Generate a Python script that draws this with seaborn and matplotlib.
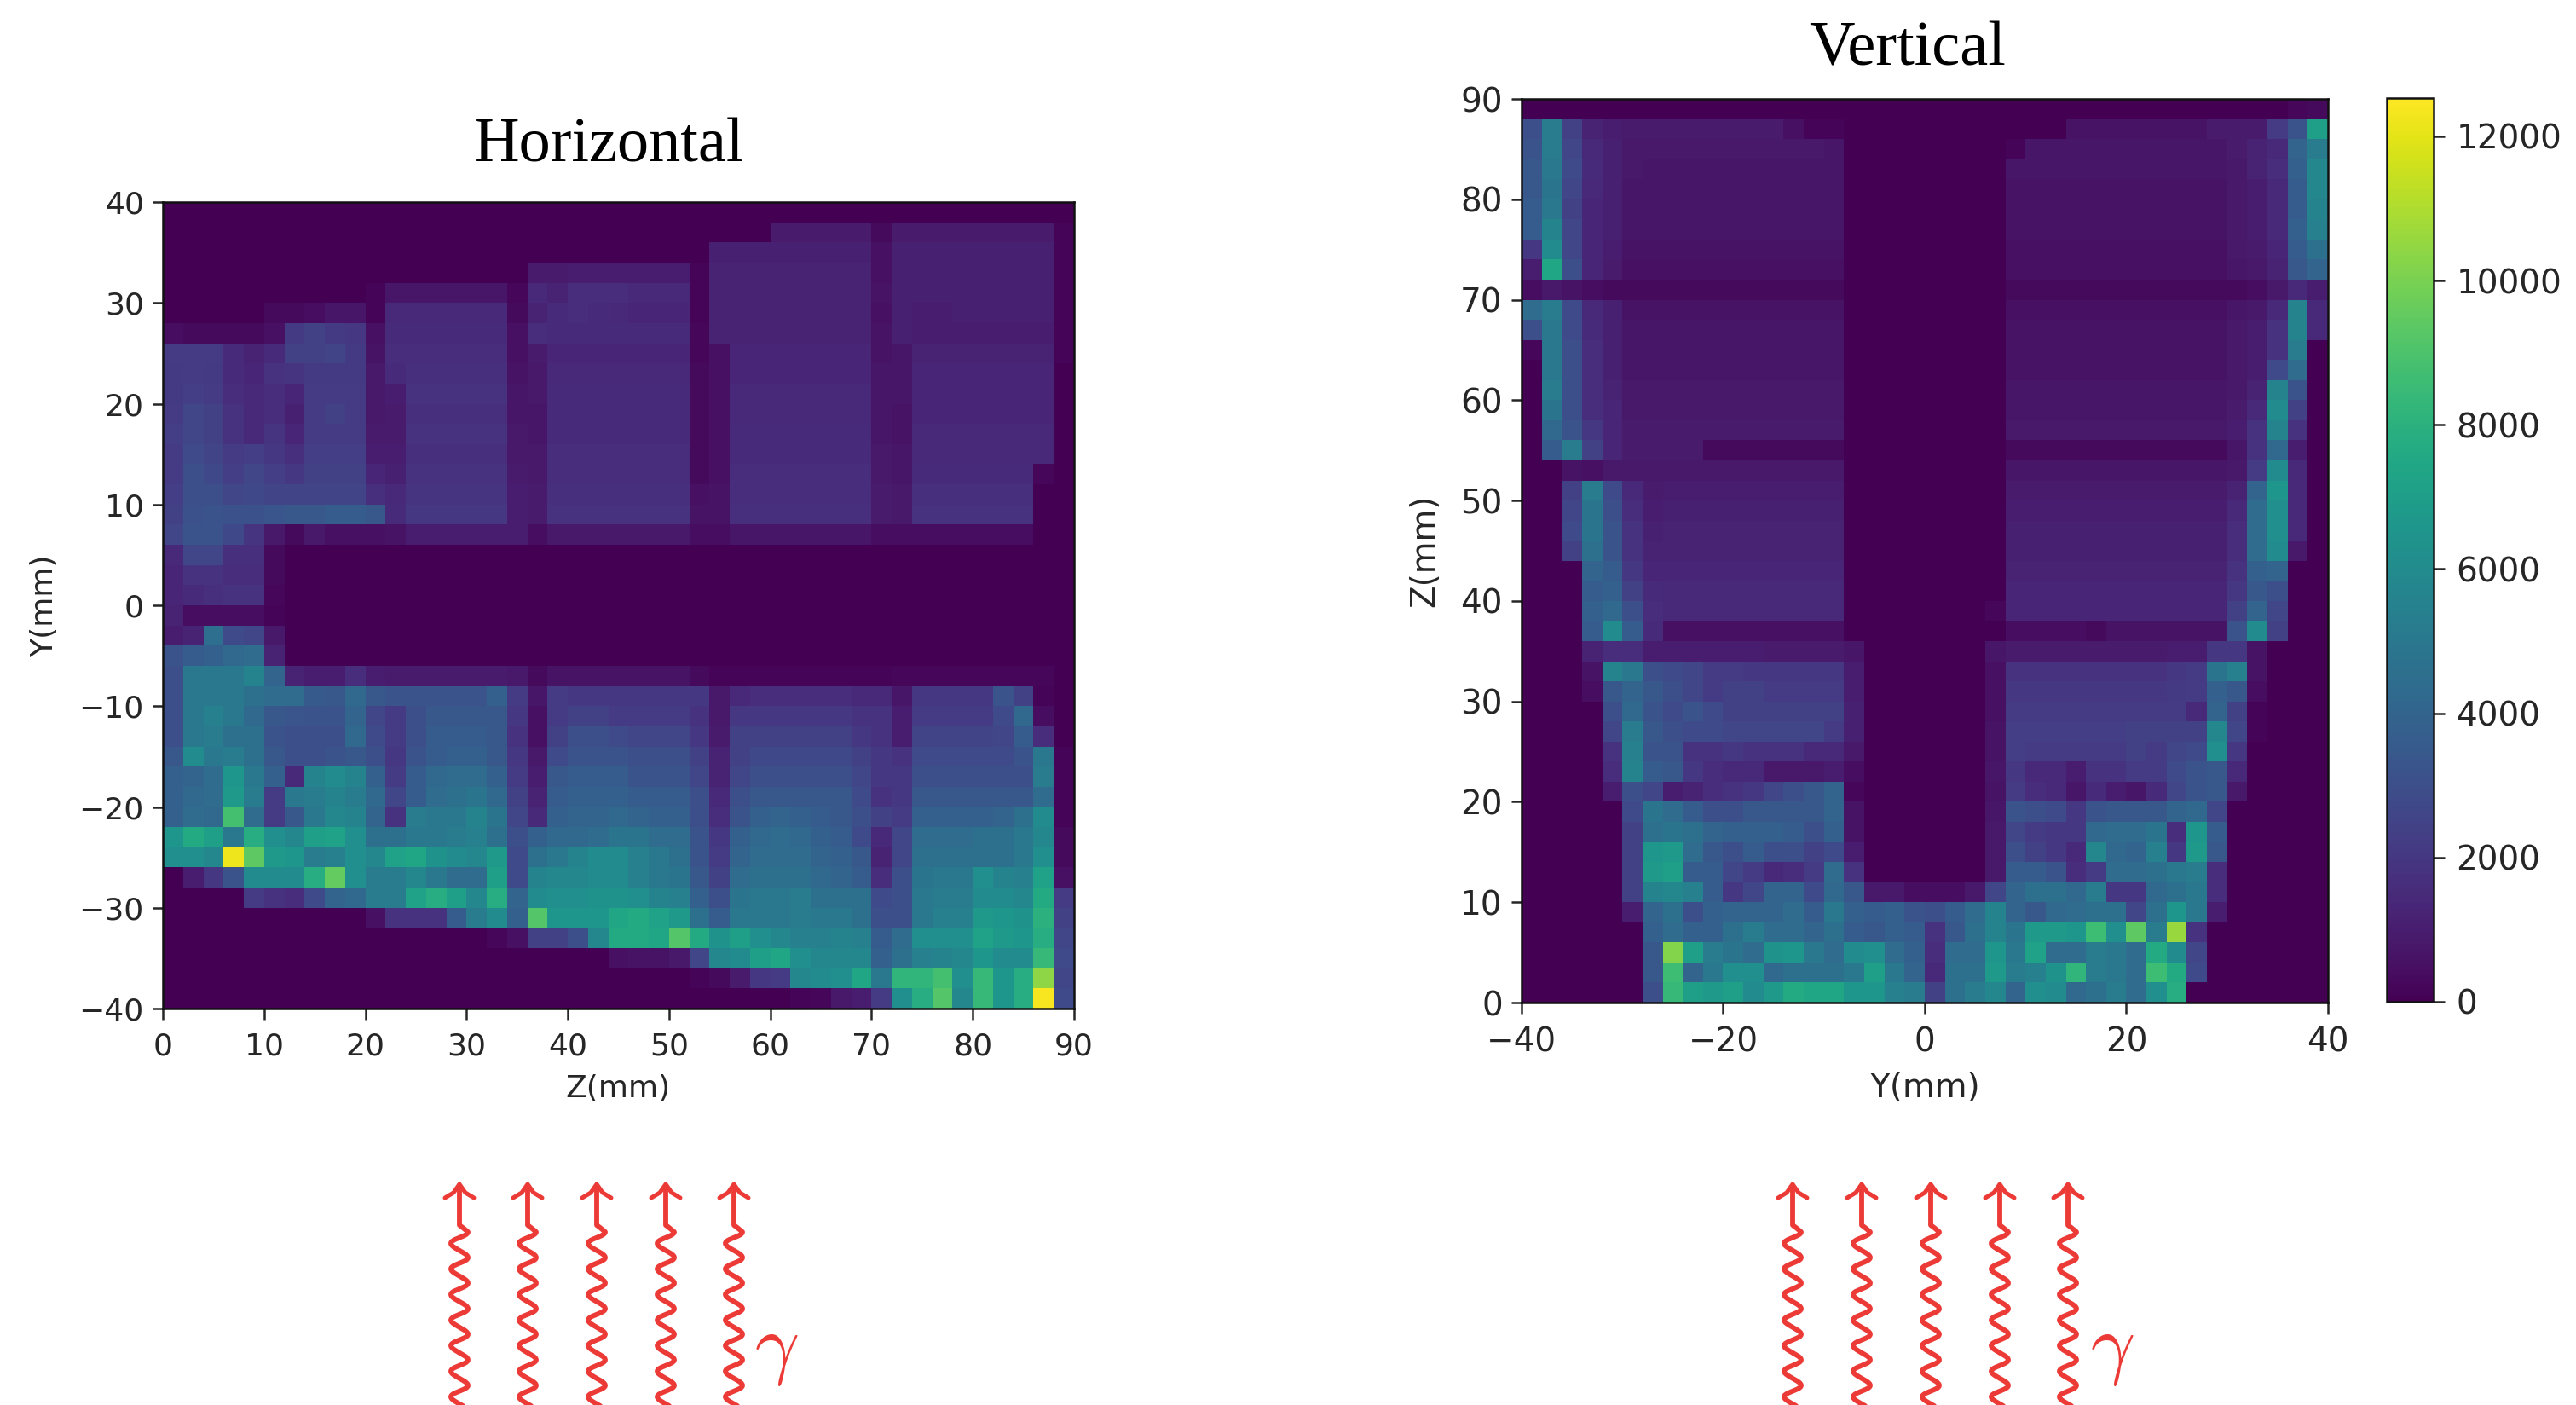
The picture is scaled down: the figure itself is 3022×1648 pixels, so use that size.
import numpy as np
import pandas as pd
import matplotlib
matplotlib.use("Agg")
import matplotlib.pyplot as plt
import seaborn as sns

# Values, in hundreds of counts. Rows run top to bottom.
horizontal_rows = [
 [0]*45,
 [0]*30+[9]*5+[3]+[9]*8+[1],
 [0]*27+[11]*8+[5]+[11]*8+[1],
 [0]*18+[9,9,10,10,10,10,10,10]+[1]+[12]*8+[5]+[11]*8+[1],
 [0]*10+[1]+[7]*6+[2]+[14,12,16,16,16,14,14,14]+[1]+[12]*8+[6]+[11]*8+[1],
 [0]*5+[3,3,4,7,7,1]+[14]*6+[3]+[12,15,16,15,14,13,13,13]+[1]+[12]*8+[5]+[11,10,10,11,11,11,11,11]+[1],
 [4,3,3,3,3,5,21,24,21,20,5]+[15]*6+[5]+[16,15,15,15,15,15,15,15]+[2]+[12]*8+[6]+[11,10,10,10,10,10,10,10]+[1],
 [22,22,22,15,12,15,24,24,25,21,6]+[16]*6+[5]+[9,13,13,13,13,13,13,13]+[2,5]+[13]*7+[6,7]+[12]*7+[1],
 [21,22,21,15,13,18,19,21,21,21,8,15]+[17]*5+[6]+[8,14,14,14,14,14,14,14]+[3,5]+[13]*7+[7,7]+[13]*7+[0],
 [21,23,22,16,14,16,13,22,22,22,8,10]+[18]*5+[7]+[8,15,15,15,15,15,15,15]+[3,5]+[14]*7+[7,7]+[13]*7+[0],
 [22,26,24,18,14,16,11,22,24,22,8,9]+[17]*5+[7]+[7,15,15,15,15,15,15,15]+[3,5]+[14]*7+[7,6]+[13]*7+[0],
 [23,26,24,18,14,19,13,22,22,22,9,9]+[18]*5+[8]+[7]+[15]*7+[3,5]+[15]*7+[7,6]+[14]*7+[0],
 [22,28,25,22,23,20,17,23,23,23,10,10]+[17]*5+[8]+[8]+[16]*7+[3,5]+[15]*7+[8,7]+[14]*7+[0],
 [22,30,27,23,26,23,20,24,24,24,13,11]+[18]*5+[9]+[8]+[16]*7+[3,5]+[16]*7+[8,7]+[15]*6+[2,0],
 [23,30,30,26,27,25,25,25,25,25,17,14]+[19]*5+[10]+[9]+[17]*7+[5,6]+[16]*7+[9,8]+[17]*6+[0,0],
 [24,31,32,31,31,33,34,34,36,36,34,15]+[20]*5+[10]+[9]+[18]*7+[6,6]+[17]*7+[9,8]+[18]*6+[0,0],
 [26,32,32,27,19,8,3,8,5,5,5,6]+[10]*6+[4]+[8]*7+[4,4]+[7]*7+[4,4]+[4]*6+[0,0],
 [14,26,26,17,17,3]+[0]*39,
 [13,18,18,16,16,3]+[0]*39,
 [13,15,17,18,18,2]+[0]*39,
 [12,4,4,4,4,1]+[0]*39,
 [10,12,45,28,26,8]+[0]*39,
 [32,36,38,42,44,12]+[0]*39,
 [30,50,50,50,56,40,12,10,10,16,10]+[9]*6+[8,3]+[6]*7+[3]+[1]*9+[2]+[2]*7+[0],
 [30,50,50,50,46,44,44,35,34,42,34,32]+[32]*4+[38,22,7,22]+[20]*6+[20,8,14]+[16]*5+[14,14,7]+[20]*4+[32,24,1,0],
 [30,50,54,50,42,34,33,32,32,40,26,22,30,34,34,34,34,20,5,22]+[24,24,22,22,22,22]+[18,8]+[20]*6+[18,18,10]+[22]*4+[28,42,4,0],
 [30,50,52,46,46,32,30,30,30,42,28,22,30,36,36,36,34,18,5,24]+[30,30,28,26,26,26]+[20,9]+[24]*6+[20,18,10]+[25]*4+[26,36,16,0],
 [34,60,50,52,46,34,30,30,32,34,30,20,32,36,38,38,34,20,8,28]+[32,32,32,30,30,30]+[24,12]+[24,27,27,27,27,27]+[24,20,18]+[28]*4+[28,32,50,1],
 [38,40,44,66,50,38,14,56,60,56,38,22,36,42,44,44,38,22,10,34]+[36,36,36,32,32,32]+[26,12]+[26,30,30,30,30,30]+[26,20,20]+[30]*4+[30,30,52,1],
 [38,42,44,68,52,22,50,52,56,52,42,26,36,44,46,48,42,24,12,36]+[38,38,38,36,36,36]+[30,14]+[30,34,34,34,34,34]+[28,18,20]+[34]*4+[34,34,44,1],
 [38,44,42,88,44,22,34,50,58,56,40,18,52,50,50,56,48,26,14,38]+[40,40,42,40,38,38]+[30,16]+[32,38,40,38,36,34]+[30,24,22]+[38]*4+[40,46,60,1],
 [66,76,70,50,78,62,58,70,72,62,46,46,50,50,52,54,46,30,38,42]+[42,44,48,48,44,44]+[32,20]+[38,42,44,42,38,36]+[28,14,26]+[44,44,44,46]+[46,50,58,3],
 [62,62,58,122,94,68,66,52,54,62,58,72,74,64,60,58,68,28,46,50]+[56,60,60,54,50,46]+[32,22]+[40,44,44,44,40,38]+[34,12,26]+[46]*4+[46,50,62,3],
 [0,10,20,32,60,60,60,78,95,62,52,52,58,50,44,44,70,28,56,58]+[58,60,60,54,50,48]+[34,24]+[44,46,46,46,42,40]+[36,16,30]+[48,50,50,62]+[56,54,72,5],
 [0,0,0,0,22,18,16,28,40,42,52,52,72,78,70,58,78,40,60,62]+[62,64,64,62,56,54]+[38,30]+[48,50,50,52,46,46]+[46,28,30]+[50,52,52,60]+[60,58,76,22],
 [0]*10+[5,18,18,18,36,52,60,38,92,66]+[66,66,74,76,72,68]+[46,36]+[50,50,50,52,50,50]+[46,30,30]+[50,54,54,68]+[66,64,80,24],
 [0]*16+[2,5,24,24]+[30,58,76,76,74,92]+[76,64]+[70,62,58,54,54,56]+[54,36,44]+[62,62,62,72]+[68,66,78,26],
 [0]*22+[5,6,6,8]+[26,58]+[60,70,74,62,58,58]+[58,38,46]+[54,56,58,66]+[60,60,84,28],
 [0]*26+[1,3]+[9,20,22,58,60,62]+[74,50,82]+[82,88,62,84]+[66,78,104,26],
 [0]*31+[1,2,8]+[10,22,62]+[78,92,58,84]+[66,78,124,28],
]

vertical_rows = [
 [0]*38+[2,3],
 [30,52,24,12,10,9,9,9,9,9,9,9,9,5,1,1]+[0]*8+[0,0,0,6,6,6,6,6,6,6,9,9,9,22,32,70],
 [32,52,26,14,11,8,8,8,8,8,8,8,8,8,8,7]+[0]*8+[1,7,7,7,7,7,7,7,7,7,7,9,12,14,40,52],
 [34,50,28,15,11,8]+[7]*10+[0]*8+[7]*11+[8,12,16,38,58],
 [34,48,26,14,11]+[7]*11+[0]*8+[6]*11+[8,10,14,36,58],
 [36,50,24,13,11]+[7]*11+[0]*8+[6]*11+[8,10,14,36,56],
 [36,56,26,13,11]+[7]*11+[0]*8+[6]*11+[8,10,14,38,54],
 [20,60,26,13,10]+[6]*11+[0]*8+[5]*11+[8,9,13,36,46],
 [10,74,30,13,9]+[5]*11+[0]*8+[5]*11+[7,8,12,34,40],
 [4,8,6,4,3]+[3]*11+[0]*8+[3]*11+[3,4,8,14,10],
 [44,52,28,14,11]+[6]*11+[0]*8+[5]*11+[7,8,14,56,14],
 [30,50,28,15,11]+[7]*11+[0]*8+[6]*11+[8,10,18,56,14],
 [2,50,30,16,11]+[7]*11+[0]*8+[6]*11+[8,10,18,52,0],
 [0,50,30,16,11]+[7]*11+[0]*8+[6]*11+[8,10,28,44,0],
 [0,52,30,16,12]+[8]*11+[0]*8+[7]*11+[8,12,56,32,0],
 [0,48,30,16,13]+[8]*11+[0]*8+[7]*11+[9,14,60,24,0],
 [0,42,32,20,13]+[9]*11+[0]*8+[8]*11+[10,18,56,18,0],
 [0,36,52,24,13,9,9,9,9]+[3]*7+[0]*8+[3]*11+[7,18,42,10,0],
 [0,0,6,5,8,8]+[8]*10+[0]*8+[7]*11+[8,22,60,14,0],
 [0,0,24,52,28,14,9]+[10]*9+[0]*8+[9]*11+[12,40,66,14,0],
 [0,0,26,48,30,16,10]+[11]*9+[0]*8+[10]*11+[14,44,62,14,0],
 [0,0,28,48,32,18,11]+[12]*9+[0]*8+[11]*11+[16,44,62,14,0],
 [0,0,24,46,32,18,12]+[12]*9+[0]*8+[11]*11+[16,44,60,8,0],
 [0,0,0,40,36,20,13]+[13]*9+[0]*8+[12]*11+[18,38,40,0,0],
 [0,0,0,36,38,24,15]+[14]*9+[0]*8+[13]*11+[20,34,30,0,0],
 [0,0,0,38,42,30,16]+[14]*9+[0]*7+[2]+[13]*11+[24,40,26,0,0],
 [0,0,0,36,60,36,15]+[5]*9+[0]*8+[4,4,4,4,3,6,6,6,6,6,6]+[32,60,24,0,0],
 [0,0,0,12,16,16]+[10]*6+[9]*4+[7]+[0]*6+[7]+[9]*8+[10,10,20,20,6,0,0,0],
 [0,0,0,6,56,50,30,28,26,22,22,20,20,20,20,20]+[10]+[0]*6+[5]+[18]*8+[20,22,48,54,6,0,0,0],
 [0,0,0,4,34,40,34,30,26,22,24,24,22,22,22,22]+[10]+[0]*6+[5]+[20]*8+[21,22,38,34,4,0,0,0],
 [0,0,0,0,30,42,32,28,32,28,24,24,24,24,24,24]+[11]+[0]*6+[5]+[22]*6+[22,22]+[22,14,40,24,1,0,0,0],
 [0,0,0,0,26,52,34,30,28,28,26,26,26,26,26,22]+[11]+[0]*6+[6]+[23]*6+[24,24]+[24,24,58,26,1,0,0,0],
 [0,0,0,0,18,54,32,32,18,18,20,18,18,18,14,14]+[8]+[0]*6+[6]+[23,22,22,22,22,22,24,22]+[26,28,62,20,0,0,0,0],
 [0,0,0,0,16,56,36,34,20,16,14,14,8,8,8,10]+[4]+[0]*6+[7]+[20,14,14,10,18,18,22,22]+[28,32,34,14,0,0,0,0],
 [0,0,0,0,10,30,26,10,12,16,18,20,26,30,34,40]+[2]+[0]*6+[6]+[22,16,14,7,15,10,7,15]+[26,32,34,8,0,0,0,0],
 [0,0,0,0,0,28,48,44,36,30,30,34,34,34,34,40]+[6]+[0]*6+[7]+[32,30,28,20,32,34,34,34]+[40,42,26,0,0,0,0,0],
 [0,0,0,0,0,24,46,48,46,40,38,38,38,36,30,38]+[6]+[0]*6+[8]+[26,22,20,20,42,44,44,48]+[16,66,36,0,0,0,0,0],
 [0,0,0,0,0,24,66,68,44,34,30,36,30,30,24,28]+[10]+[0]*6+[8]+[30,24,20,14,58,42,40,54]+[20,68,34,0,0,0,0,0],
 [0,0,0,0,0,24,68,70,36,36,26,22,14,16,22,44]+[18]+[0]*6+[8]+[36,36,32,16,22,44,44,46]+[50,52,16,0,0,0,0,0],
 [0,0,0,0,0,24,56,58,54,36,20,26,40,40,28,42]+[34,8,8,4,4,4,8,26]+[40,46,46,42,52,20,20,42]+[46,50,16,0,0,0,0,0],
 [0,0,0,0,0,10,40,46,30,38,40,40,40,44,36,50]+[38,36,38,32,30,36,44,56]+[40,34,42,44,46,46,26,46]+[66,50,10,0,0,0,0,0],
 [0,0,0,0,0,0,38,44,38,38,46,52,44,44,40,46]+[36,34,38,36,18,34,46,56]+[48,68,68,66,86,62,94,52]+[106,18,0,0,0,0,0,0],
 [0]*6+[34,102,70,52,48,44,64,66,50,44]+[60,62,44,38,16,44,44,66]+[50,72,44,44,52,50,44,76]+[60,26,0,0,0,0,0,0],
 [0]*6+[34,86,40,50,62,62,42,46,46,46]+[50,70,50,40,14,46,46,68]+[52,54,64,82,52,50,44,86]+[76,28,0,0,0,0,0,0],
 [0]*6+[30,84,70,68,70,60,68,76,74,74]+[66,66,54,52,24,46,52,58]+[40,62,60,42,46,52,44,62]+[78,0,0,0,0,0,0,0],
]

z_edges_mm = [0, 10, 20, 30, 40, 50, 60, 70, 80, 90]
y_edges_mm = [-40, -30, -20, -10, 0, 10, 20, 30, 40]
vertical_y_ticks_mm = [-40, -20, 0, 20, 40]
colorbar_ticks = [0, 2000, 4000, 6000, 8000, 10000, 12000]
color_max = 12530
count_unit = 100
bin_mm = 2

W, H = 3022, 1648
INK = "#262626"
RED = "#EC3A36"


def label(values):
    return [str(v).replace("-", "\u2212") for v in values]


def frame(rows, width):
    for i, r in enumerate(rows):
        if len(r) != width:
            print("row", i, "has", len(r), "cells, expected", width)
    fixed = [(list(r) + [0] * width)[:width] for r in rows]
    return pd.DataFrame(np.array(fixed) * count_unit)


def rect(x0, y0, x1, y1):
    return [x0 / W, 1 - y1 / H, (x1 - x0) / W, (y1 - y0) / H]


sns.set_theme(style="white")
plt.rcParams["font.family"] = ["DejaVu Sans"]
plt.rcParams["mathtext.fontset"] = "cm"

fig = plt.figure(figsize=(W / 100, H / 100), dpi=100, facecolor="white")
ax_h = fig.add_axes(rect(191, 237, 1260, 1183))
ax_v = fig.add_axes(rect(1785, 116, 2731, 1176))
ax_c = fig.add_axes(rect(2800, 115, 2855, 1175))

sns.heatmap(frame(horizontal_rows, 45), ax=ax_h, cmap="viridis", vmin=0, vmax=color_max,
            cbar=False, xticklabels=False, yticklabels=False)
sns.heatmap(frame(vertical_rows, 40), ax=ax_v, cmap="viridis", vmin=0, vmax=color_max,
            cbar=True, cbar_ax=ax_c, xticklabels=False, yticklabels=False)

ax_h.set_xticks([v / bin_mm for v in z_edges_mm])
ax_h.set_xticklabels(label(z_edges_mm), rotation=0)
ax_h.set_yticks([(y_edges_mm[-1] - v) / bin_mm for v in y_edges_mm])
ax_h.set_yticklabels(label(y_edges_mm), rotation=0)
ax_v.set_xticks([(v - vertical_y_ticks_mm[0]) / bin_mm for v in vertical_y_ticks_mm])
ax_v.set_xticklabels(label(vertical_y_ticks_mm), rotation=0)
ax_v.set_yticks([(z_edges_mm[-1] - v) / bin_mm for v in z_edges_mm])
ax_v.set_yticklabels(label(z_edges_mm), rotation=0)

for ax, size in ((ax_h, 26), (ax_v, 28)):
    ax.tick_params(axis="both", which="major", length=9, width=1.8, colors=INK,
                   labelsize=size, bottom=True, left=True, pad=7)
    ax.tick_params(axis="x", pad=11)
    for s in ax.spines.values():
        s.set_visible(True)
        s.set_color("#111111")
        s.set_linewidth(1.8)

cbar = ax_v.collections[0].colorbar
cbar.set_ticks(colorbar_ticks)
cbar.set_ticklabels(label(colorbar_ticks))
cbar.ax.tick_params(length=9, width=1.8, colors=INK, labelsize=28, right=True, pad=10)
cbar.outline.set_visible(True)
cbar.outline.set_edgecolor("#111111")
cbar.outline.set_linewidth(1.8)

over = fig.add_axes([0, 0, 1, 1], facecolor="none")
over.set_xlim(0, W)
over.set_ylim(H, 0)
over.axis("off")

over.text(725, 1277, "Z(mm)", fontsize=26, color=INK, ha="center", va="center")
over.text(52, 711, "Y(mm)", fontsize=26, color=INK, ha="center", va="center", rotation=90)
over.text(2258, 1276, "Y(mm)", fontsize=28, color=INK, ha="center", va="center")
over.text(1671, 646, "Z(mm)", fontsize=28, color=INK, ha="center", va="center", rotation=90)

serif = ["Liberation Serif", "DejaVu Serif"]
over.text(715, 189, "Horizontal", fontsize=53.5, family=serif, color="black", ha="center", va="baseline")
over.text(2238, 76, "Vertical", fontsize=53.5, family=serif, color="black", ha="center", va="baseline")


def photon(x0):
    t = np.linspace(0, 2 * np.pi * 8, 800)
    yy = 1445 + 30 * t / (2 * np.pi) - 0.8 * (1 - np.cos(t))
    xx = x0 + 10 * np.cos(t)
    keep = yy < H + 10
    xs = np.r_[x0, x0, x0 + 4, xx[keep]]
    ys = np.r_[1392, 1437, 1440, yy[keep]]
    over.plot(xs, ys, color=RED, lw=4.2, solid_capstyle="round", solid_joinstyle="round", clip_on=True)
    over.plot([x0 - 17, x0 - 7, x0, x0 + 7, x0 + 17], [1405, 1399, 1389, 1399, 1405],
              color=RED, lw=3.6, solid_capstyle="round", solid_joinstyle="round")


for x0 in (539, 619, 700, 781, 861, 2103, 2184, 2265, 2346, 2426):
    photon(x0)

over.text(911, 1606, r"$\gamma$", fontsize=66, color=RED, ha="center", va="baseline")
over.text(2478, 1606, r"$\gamma$", fontsize=66, color=RED, ha="center", va="baseline")

fig.savefig("out.png", dpi=100, facecolor="white")
